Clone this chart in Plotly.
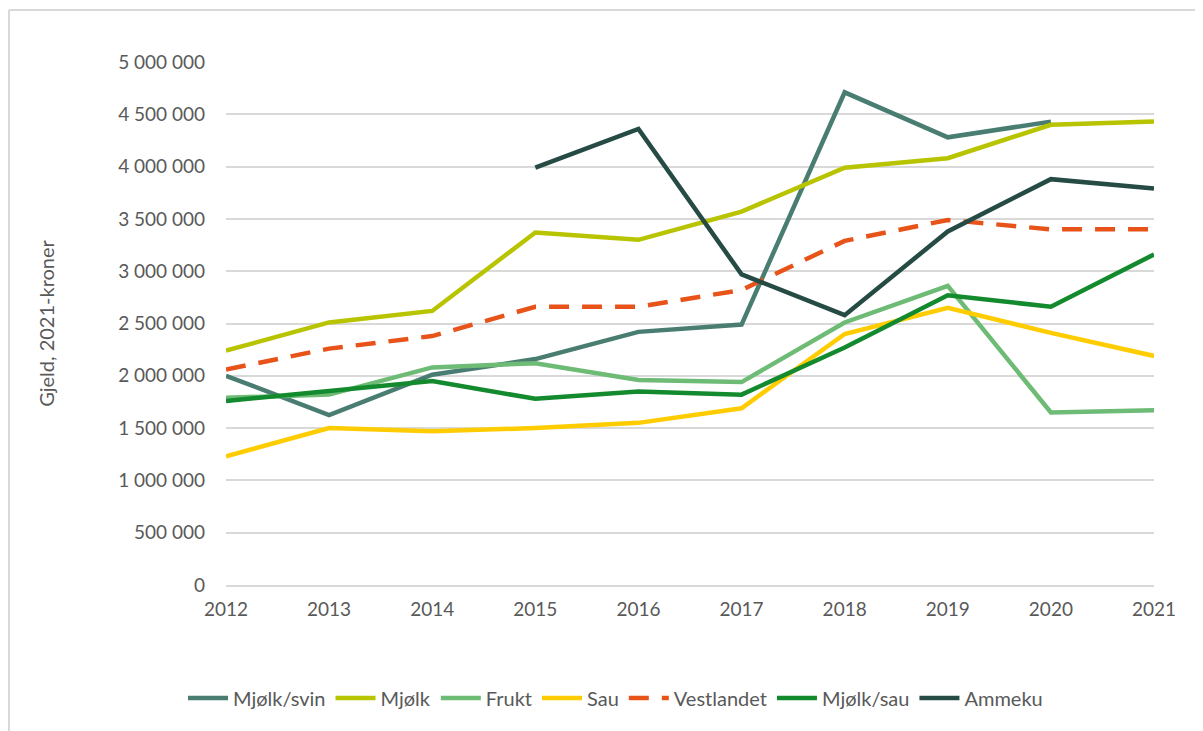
import plotly.graph_objects as go

years = [2012, 2013, 2014, 2015, 2016, 2017, 2018, 2019, 2020, 2021]
mjolk_svin = [2000000, 1625000, 2010000, 2160000, 2420000, 2490000, 4710000, 4280000, 4430000, None]
mjolk = [2240000, 2510000, 2620000, 3370000, 3300000, 3570000, 3990000, 4080000, 4400000, 4430000]
frukt = [1790000, 1820000, 2080000, 2120000, 1960000, 1940000, 2510000, 2860000, 1650000, 1670000]
sau = [1230000, 1500000, 1470000, 1500000, 1550000, 1690000, 2400000, 2650000, 2410000, 2190000]
vestlandet = [2060000, 2260000, 2380000, 2660000, 2660000, 2820000, 3290000, 3490000, 3400000, 3400000]
mjolk_sau = [1760000, 1860000, 1950000, 1780000, 1850000, 1820000, 2270000, 2770000, 2660000, 3160000]
ammeku = [None, None, None, 3990000, 4360000, 2970000, 2580000, 3380000, 3880000, 3790000]

series = [
    ("Mjølk/svin", mjolk_svin, "#4A7D72", "solid"),
    ("Mjølk", mjolk, "#B8C400", "solid"),
    ("Frukt", frukt, "#6DBB74", "solid"),
    ("Sau", sau, "#FFCC00", "solid"),
    ("Vestlandet", vestlandet, "#E8531A", "20px,13px"),
    ("Mjølk/sau", mjolk_sau, "#138A2E", "solid"),
    ("Ammeku", ammeku, "#264B45", "solid"),
]

fig = go.Figure()
for name, vals, color, dash in series:
    fig.add_trace(go.Scatter(
        x=years, y=vals, name=name, mode="lines",
        line=dict(color=color, width=4.5, dash=dash),
        connectgaps=False,
    ))

# page body has an 8px margin; compensate so the plot lands where the reference has it
L, R, T, B = 218, 57, 54, 154
W, H = 1203, 731
pw, ph = W - L - R, H - T - B

font_family = "Lato, 'Open Sans', sans-serif"
fig.update_layout(
    width=W, height=H,
    margin=dict(l=L, r=R, t=T, b=B),
    paper_bgcolor="white", plot_bgcolor="white",
    separators=", ",
    font=dict(family=font_family, size=19, color="#595959"),
    showlegend=True,
    legend=dict(
        orientation="h", xref="container", yref="container",
        x=0.505, xanchor="center", y=0.056, yanchor="middle",
        font=dict(size=20, color="#595959"),
        itemwidth=40, tracegroupgap=0,
    ),
    xaxis=dict(
        range=[2012, 2021], tick0=2012, dtick=1, showgrid=False,
        showline=True, linecolor="#D9D9D9", linewidth=2,
        ticks="", zeroline=False, tickfont=dict(size=19, color="#595959"),
        ticklabelstandoff=6,
    ),
    yaxis=dict(
        range=[0, 5000000], dtick=500000, tickformat=",d",
        showgrid=True, gridcolor="#D9D9D9", gridwidth=2,
        zeroline=False, showline=False, ticks="",
        tickfont=dict(size=19, color="#595959"),
        ticklabelstandoff=20,
        title=dict(text="Gjeld, 2021-kroner", font=dict(size=20, color="#595959"), standoff=58),
    ),
)
# chart frame: left and top edges (in figure pixels converted to paper fractions)
fx, fy = 1, 2
fig.add_shape(type="line", xref="paper", yref="paper",
              x0=(fx - L) / pw, x1=(fx - L) / pw,
              y0=(H - B - H) / ph, y1=(H - B - fy) / ph,
              line=dict(color="#D9D9D9", width=2))
fig.add_shape(type="line", xref="paper", yref="paper",
              x0=(fx - L) / pw, x1=(W - L) / pw,
              y0=(H - B - fy) / ph, y1=(H - B - fy) / ph,
              line=dict(color="#D9D9D9", width=2))

fig.write_html("out.html")
